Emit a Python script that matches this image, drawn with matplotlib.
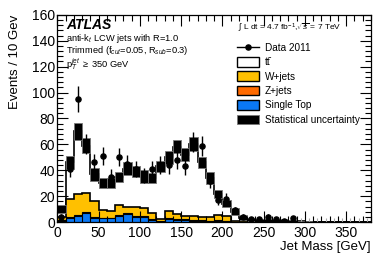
import numpy as np
import matplotlib
matplotlib.use("Agg")
import matplotlib.pyplot as plt
from matplotlib.patches import Patch
from matplotlib.lines import Line2D
from matplotlib.ticker import MultipleLocator

plt.rcParams['font.family'] = ['Liberation Sans', 'DejaVu Sans']
plt.rcParams['mathtext.fontset'] = 'custom'
plt.rcParams['mathtext.rm'] = 'Liberation Sans'
plt.rcParams['mathtext.it'] = 'Liberation Sans:italic'

# 10 GeV bins from 0 to 380 GeV
edges = np.arange(0, 390, 10)
centers = edges[:-1] + 5

# observed data, events per bin
data = np.array([4, 41, 95, 60, 46, 51, 35, 50, 45, 41, 36, 41, 44, 44, 48, 43, 62, 59, 32, 17,
                 18, 9, 4, 2, 2, 4, 2, 1, 3, 0, 0, 0, 0, 0, 0, 0, 0, 0])

# total expectation and its statistical uncertainty
mc_total = np.array([10, 46, 70, 59, 37, 30, 30, 35, 41, 39, 35, 34, 43, 50, 58, 52, 60, 46, 34, 21.5,
                     14, 8, 3.5, 2, 1.5, 1.5, 1, 1.2, 0.8, 0.5, 0.3, 0.2, 0.2, 0.1, 0.1, 0.1, 0.1, 0.1])
mc_unc = np.array([3, 5, 6.5, 5.8, 5, 4, 4, 4, 5, 4.5, 5, 4, 4.5, 5, 5, 5, 5.5, 4.5, 4.5, 3,
                   2.7, 2.5, 2, 1.5, 1.2, 1.2, 1, 1, 0.8, 0.5, 0.3, 0.2, 0.2, 0.1, 0.1, 0.1, 0.1, 0.1])

# background components
wjets = np.array([2.7, 14.4, 15.7, 14.6, 12.2, 5.5, 5.1, 7.7, 5, 6.3, 5.5, 4.2, 1.7, 5.3, 4.1, 3, 3.1, 2.7, 3.1, 3.6,
                  3.7, 0.4, 0.4, 0.3, 0.3, 0.3, 0.2, 1.0, 0.2, 0.1, 0.1, 0, 0, 0, 0, 0, 0, 0])
zjets = np.array([0.3, 0.8, 1.3, 1.3, 1.1, 0.7, 0.7, 0.7, 1, 0.9, 0.9, 0.7, 0.2, 0.7, 0.6, 0.5, 0.4, 0.3, 0.3, 0.4,
                  0.3, 0.1, 0, 0, 0, 0, 0, 0, 0, 0, 0, 0, 0, 0, 0, 0, 0, 0])
stop = np.array([1, 2.8, 4.5, 6.7, 2.9, 2.8, 2.8, 4.9, 6, 4.1, 4.1, 1.8, 0.3, 2.5, 1.8, 1.5, 1, 1, 0.9, 1.2,
                 0.5, 0.3, 0.2, 0.2, 0.1, 0.1, 0.1, 0.1, 0.1, 0.1, 0, 0, 0, 0, 0, 0, 0, 0])
ttbar = mc_total - wjets - zjets - stop

c_w = '#FFC000'
c_z = '#FF6A00'
c_st = '#0A78F5'

fig = plt.figure(figsize=(3.9, 2.65), dpi=100)
ax = fig.add_axes([0.147, 0.162, 0.804, 0.782])

# stacked histograms, drawn back to front
ax.stairs(ttbar + wjets + zjets + stop, edges, fill=True, facecolor='white', edgecolor='black', lw=1.2)
ax.stairs(wjets + zjets + stop, edges, fill=True, facecolor=c_w, edgecolor='black', lw=1.2)
ax.stairs(zjets + stop, edges, fill=True, facecolor=c_z, edgecolor='black', lw=0.8)
ax.stairs(stop, edges, fill=True, facecolor=c_st, edgecolor='black', lw=0.8)

# statistical uncertainty boxes
ax.bar(centers, 2 * mc_unc, bottom=mc_total - mc_unc, width=10, color='black',
       edgecolor='#777777', lw=0.6)

# data
has = data > 0
ax.errorbar(centers[has], data[has], yerr=np.sqrt(data[has]), fmt='o', color='black',
            ms=3.7, lw=1, capsize=0)
ax.vlines(centers[~has], 0, 3.5, color='#aaaaaa', lw=0.8)

ax.set_xlim(0, 380)
ax.set_ylim(0, 160)
ax.xaxis.set_major_locator(MultipleLocator(50))
ax.xaxis.set_minor_locator(MultipleLocator(10))
ax.yaxis.set_major_locator(MultipleLocator(20))
ax.yaxis.set_minor_locator(MultipleLocator(4))
ax.tick_params(which='both', direction='in', top=True, right=True, labelsize=10, width=0.8)
ax.tick_params(which='major', length=8)
ax.tick_params(which='minor', length=4)
ax.tick_params(axis='y', pad=1.5)
ax.tick_params(axis='x', pad=2.5)
for s in ax.spines.values():
    s.set_linewidth(0.9)

ax.set_xlabel('Jet Mass [GeV]', fontsize=9.5, loc='right', labelpad=1)
ax.set_ylabel('Events / 10 Gev', fontsize=9.5, loc='top', labelpad=8)

ax.text(0.027, 0.952, 'ATLAS', transform=ax.transAxes, fontsize=10, fontweight='bold',
        fontstyle='italic', va='center')
ax.text(0.027, 0.885, 'anti-k$_t$ LCW jets with R=1.0', transform=ax.transAxes, fontsize=6.7,
        va='center')
ax.text(0.027, 0.826, 'Trimmed (f$_{cut}$=0.05, R$_{sub}$=0.3)', transform=ax.transAxes, fontsize=6.7,
        va='center')
ax.text(0.027, 0.762, 'p$_T^{jet}$ $\\geq$ 350 GeV', transform=ax.transAxes, fontsize=6.7,
        va='center')
ax.text(0.575, 0.94, '$\\int$ L dt = 4.7 fb$^{-1}$,$\\sqrt{s}$ = 7 TeV', transform=ax.transAxes,
        fontsize=6, va='center')

handles = [
    Line2D([], [], color='black', marker='o', ms=3.7, lw=1),
    Patch(facecolor='white', edgecolor='black', lw=1),
    Patch(facecolor=c_w, edgecolor='black', lw=1),
    Patch(facecolor=c_z, edgecolor='black', lw=1),
    Patch(facecolor=c_st, edgecolor='black', lw=1),
    Patch(facecolor='black', edgecolor='#777777', lw=0.6),
]
labels = ['Data 2011', 'tt\u0304', 'W+jets', 'Z+jets', 'Single Top', 'Statistical uncertainty']
ax.legend(handles, labels, loc='upper left', bbox_to_anchor=(0.56, 0.885), frameon=False,
          fontsize=7.2, handlelength=2.2, handleheight=1.1, labelspacing=0.42, handletextpad=0.6,
          borderaxespad=0)

fig.savefig('out.png', dpi=100)
